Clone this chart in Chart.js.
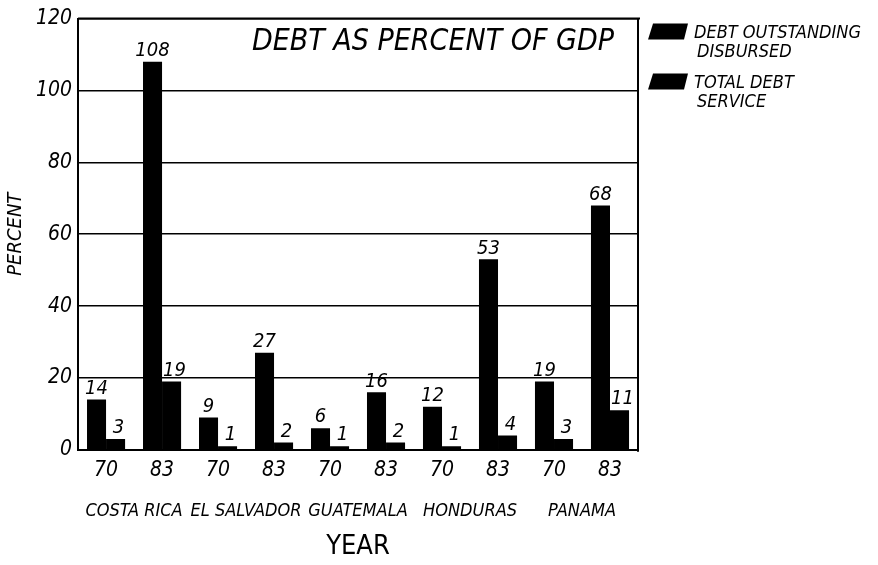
<!DOCTYPE html>
<html>
<head>
<meta charset="utf-8">
<script src="https://cdn.jsdelivr.net/npm/chart.js@4"></script>
<style>
  html, body { margin: 0; padding: 0; background: #fff; }
</style>
</head>
<body>
<canvas id="debtChart" width="878" height="565"></canvas>
<script>
// data
const years = ['70', '83', '70', '83', '70', '83', '70', '83', '70', '83'];
const countries = ['COSTA RICA', 'EL SALVADOR', 'GUATEMALA', 'HONDURAS', 'PANAMA'];
const debtOutstanding = [14, 108, 9, 27, 6, 16, 12, 53, 19, 68];
const debtService = [3, 19, 1, 2, 1, 2, 1, 4, 3, 11];
const yTicks = [0, 20, 40, 60, 80, 100, 120];

const FONT = "'Liberation Sans Narrow', 'DejaVu Sans Condensed', sans-serif";
const INK = '#000';

// value labels over each bar
const valueLabels = {
    id: 'valueLabels',
    afterDatasetsDraw(chart) {
        const ctx = chart.ctx;
        ctx.save();
        ctx.fillStyle = INK;
        ctx.font = 'italic 20px ' + FONT;
        ctx.textAlign = 'center';
        ctx.textBaseline = 'bottom';
        chart.data.datasets.forEach((ds, i) => {
            chart.getDatasetMeta(i).data.forEach((bar, j) => {
                ctx.fillText(ds.data[j], bar.x + (i === 1 ? 3 : 0), bar.y - 1);
            });
        });
        ctx.restore();
    }
};

// frame, title and legend
const decorations = {
    id: 'decorations',
    afterDraw(chart) {
        const ctx = chart.ctx;
        const a = chart.chartArea;
        ctx.save();
        ctx.strokeStyle = INK;
        ctx.lineWidth = 2;
        ctx.beginPath();
        ctx.moveTo(a.left, a.top);
        ctx.lineTo(a.right + 2, a.top);
        ctx.moveTo(a.right, a.top);
        ctx.lineTo(a.right, a.bottom + 2);
        ctx.stroke();

        ctx.fillStyle = INK;
        ctx.font = 'italic 30px ' + FONT;
        ctx.textAlign = 'right';
        ctx.textBaseline = 'middle';
        ctx.fillText('DEBT AS PERCENT OF GDP', a.right - 24, a.top + 24);

        // legend
        ctx.font = 'italic 18px ' + FONT;
        ctx.textAlign = 'left';
        chart.data.datasets.forEach((ds, i) => {
            const y = a.top + 5 + i * 50;
            ctx.beginPath();
            ctx.moveTo(a.right + 10, y + 16);
            ctx.lineTo(a.right + 15, y);
            ctx.lineTo(a.right + 50, y);
            ctx.lineTo(a.right + 46, y + 16);
            ctx.closePath();
            ctx.fill();
            ds.label.forEach((line, k) => {
                ctx.fillText(line, a.right + 56 + k * 3, y + 10 + k * 19);
            });
        });
        ctx.restore();
    }
};

new Chart(document.getElementById('debtChart'), {
    type: 'bar',
    data: {
        labels: years,
        datasets: [
            { label: ['DEBT OUTSTANDING', 'DISBURSED'], data: debtOutstanding, backgroundColor: INK },
            { label: ['TOTAL DEBT', 'SERVICE'], data: debtService, backgroundColor: INK }
        ]
    },
    options: {
        responsive: false,
        animation: false,
        layout: { padding: { top: 7, right: 240, left: 4, bottom: 2 } },
        datasets: { bar: { categoryPercentage: 0.68, barPercentage: 1.0 } },
        plugins: {
            legend: { display: false },
            tooltip: { enabled: false }
        },
        scales: {
            x: {
                type: 'category',
                grid: { display: false },
                border: { display: true, color: INK, width: 2 },
                ticks: { color: INK, font: { family: FONT, size: 21, style: 'italic' }, padding: 0, maxRotation: 0, autoSkip: false }
            },
            x2: {
                type: 'category',
                position: 'bottom',
                labels: countries,
                grid: { display: false, drawTicks: false },
                border: { display: false },
                ticks: { color: INK, font: { family: FONT, size: 18, style: 'italic' }, padding: 18, maxRotation: 0, autoSkip: false },
                title: { display: true, text: 'YEAR', color: INK, font: { family: FONT, size: 27 }, padding: { top: -10, bottom: 0 } }
            },
            y: {
                min: 0,
                max: 120,
                afterBuildTicks(axis) { axis.ticks = yTicks.map(v => ({ value: v })); },
                grid: { color: INK, lineWidth: 1.5, drawTicks: false },
                border: { display: true, color: INK, width: 2 },
                ticks: { color: INK, font: { family: FONT, size: 21, style: 'italic' }, padding: 6 },
                title: { display: true, text: 'PERCENT', color: INK, font: { family: FONT, size: 20, style: 'italic' }, padding: { top: 0, bottom: 2 } }
            }
        }
    },
    plugins: [valueLabels, decorations]
});
</script>
</body>
</html>
